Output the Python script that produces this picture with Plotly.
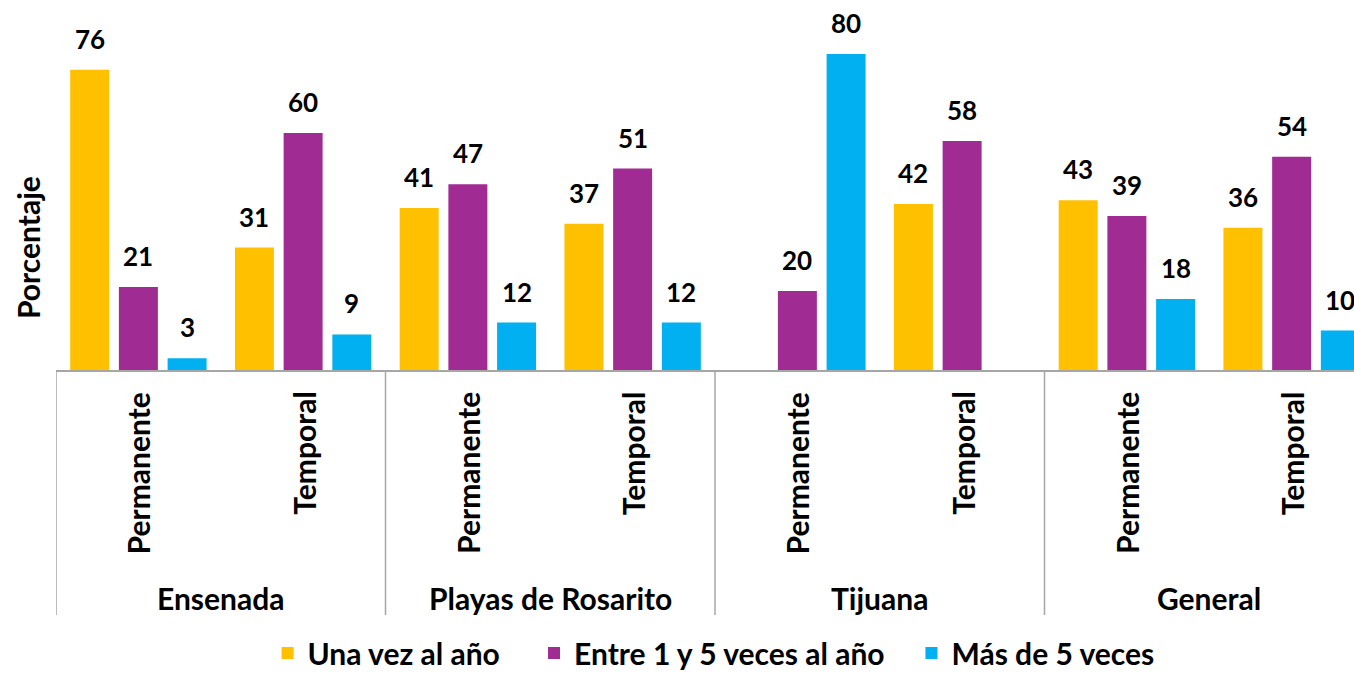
import plotly.graph_objects as go

cities = ["Ensenada", "Playas de Rosarito", "Tijuana", "General"]
types = ["Permanente", "Temporal"]
categories = [f"{c} - {t}" for c in cities for t in types]

series_names = ["Una vez al año", "Entre 1 y 5 veces al año", "Más de 5 veces"]
una_vez = [76, 31, 41, 37, None, 42, 43, 36]
entre_1_5 = [21, 60, 47, 51, 20, 58, 39, 54]
mas_de_5 = [3, 9, 12, 12, 80, None, 18, 10]
colors = ["#FFC000", "#A02B93", "#00B0F0"]

FONT = "Lato"
W, H = 1354, 679
PL, PT, PB = 56, 20, 370
plot_h = PB - PT
px_per_unit = 3.95
ymax = plot_h / px_per_unit
BARGAP, GROUPGAP = 0.113, 0.2
cat_px = 164.7  # pixel width of one category

fig = go.Figure()
all_series = [una_vez, entre_1_5, mas_de_5]
NBSP = "\u00a0"
pads = [4, 3, 0]
for name, vals, col, p in zip(series_names, all_series, colors, pads):
    fig.add_trace(go.Bar(
        x=categories, y=vals, name=name + NBSP * p,
        marker=dict(color=col, line=dict(width=0)),
    ))

fig.update_layout(
    width=W, height=H,
    margin=dict(l=PL, r=0, t=PT, b=H - PB),
    paper_bgcolor="white", plot_bgcolor="white",
    barmode="group", bargap=BARGAP, bargroupgap=GROUPGAP,
    font=dict(family=FONT, color="black"),
    showlegend=True,
    legend=dict(orientation="h", xref="container", x=0.527, xanchor="center",
                yref="container", y=0.0, yanchor="bottom",
                font=dict(family=FONT, size=30, color="black", weight="bold"),
                itemclick=False),
)
fig.update_xaxes(showticklabels=False, showgrid=False, zeroline=False,
                 showline=True, linecolor="#A6A6A6", linewidth=1.5,
                 range=[-0.5, 7.5 - 20 / cat_px], ticks="")
fig.update_yaxes(range=[0, ymax], showticklabels=False, showgrid=False,
                 zeroline=False, showline=False, ticks="")

# value labels above bars (offset horizontally to each bar's slot)
slot_px = cat_px * (1 - BARGAP) / 3
for k, vals in enumerate(all_series):
    for cat, v in zip(categories, vals):
        if v is None:
            continue
        fig.add_annotation(x=cat, xref="x", y=v, yref="y", text=str(v),
                           showarrow=False, xanchor="center", yanchor="middle",
                           xshift=(k - 1) * slot_px, yshift=31,
                           font=dict(family=FONT, size=26, color="black", weight="bold"))

# group dividers
for b in [-0.5, 1.5, 3.5, 5.5]:
    fig.add_shape(type="line", xref="x", yref="paper", x0=b, x1=b,
                  y0=0, y1=-(615 - PB) / plot_h,
                  line=dict(color="#A6A6A6", width=1.5))

# subcategory labels
for cat in categories:
    t = cat.split(" - ")[1]
    fig.add_annotation(x=cat, xref="x", y=0, yref="paper", yshift=-20,
                       text=t, textangle=-90, showarrow=False,
                       xanchor="center", yanchor="top",
                       font=dict(family=FONT, size=30, color="black", weight="bold"))

# city labels
for j, c in enumerate(cities):
    fig.add_annotation(x=2 * j + 0.5, xref="x", y=-(598 - PB) / plot_h, yref="paper",
                       text=c, showarrow=False, xanchor="center", yanchor="middle",
                       font=dict(family=FONT, size=30, color="black", weight="bold"))

# y title
fig.add_annotation(x=(28 - PL) / (W - PL), xref="paper", y=(PB - 248) / plot_h, yref="paper",
                   text="Porcentaje", showarrow=False, textangle=-90,
                   xanchor="center", yanchor="middle",
                   font=dict(family=FONT, size=30, color="black", weight="bold"))

fig.write_html("out.html", config={"displayModeBar": False})
with open("out.html", encoding="utf-8") as f:
    html = f.read()
html = html.replace("<head>", "<head><style>html,body{margin:0;padding:0;overflow:hidden}</style>", 1)
with open("out.html", "w", encoding="utf-8") as f:
    f.write(html)
